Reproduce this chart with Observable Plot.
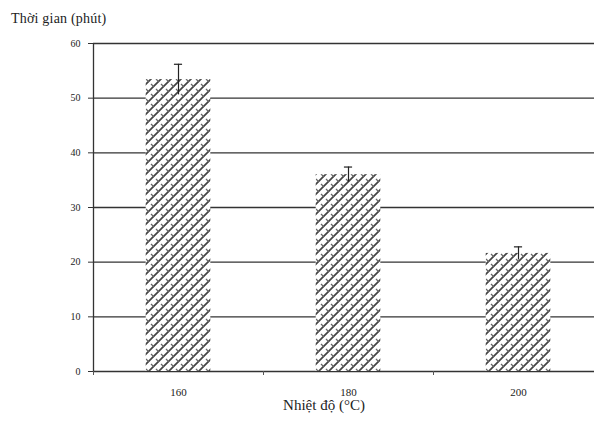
<!DOCTYPE html>
<html><head><meta charset="utf-8">
<script src="https://cdn.jsdelivr.net/npm/d3@7"></script>
<script src="https://cdn.jsdelivr.net/npm/@observablehq/plot@0.6"></script>
<style>
body{margin:0;background:#fff;font-family:"Liberation Serif",serif;}
#wrap{position:relative;width:594px;height:426px;overflow:hidden;}
#title{position:absolute;left:11px;top:11px;font:14px "Liberation Serif",serif;color:#222;letter-spacing:0.2px;}
</style></head>
<body><div id="wrap"><div id="title">Thời gian (phút)</div></div>
<script>
const categories = ["160", "180", "200"];
const values = [53.4, 36.0, 21.6];
const errors = [2.8, 1.4, 1.2];
const yTicks = [0, 10, 20, 30, 40, 50, 60];

const data = categories.map((c, i) => ({c, i, v: values[i], e: errors[i]}));
const capHalf = 0.024;

const plot = Plot.plot({
  width: 594, height: 426,
  marginLeft: 93, marginRight: 0, marginTop: 43, marginBottom: 55,
  style: {fontFamily: "Liberation Serif, serif", fontSize: "10px", color: "#222", background: "#fff"},
  x: {domain: [0, 3], range: [93, 603], axis: null},
  y: {domain: [0, 60], axis: null},
  marks: [
    Plot.ruleY(yTicks, {x1: 0, x2: 3, stroke: "#333", strokeWidth: 1.3}),
    Plot.ruleX([0], {y1: 0, y2: 60, stroke: "#333", strokeWidth: 1.3}),
    Plot.rectY(data, {x1: d => d.i + 0.31, x2: d => d.i + 0.69, y1: 0, y2: "v", fill: "url(#hatch)"}),
    Plot.ruleX(data, {x: d => d.i + 0.5, y1: d => d.v - d.e, y2: d => d.v + d.e, stroke: "#222", strokeWidth: 1.2}),
    Plot.ruleY(data, {x1: d => d.i + 0.5 - capHalf, x2: d => d.i + 0.5 + capHalf, y: d => d.v + d.e, stroke: "#222", strokeWidth: 1.2}),
    Plot.axisY({ticks: yTicks, tickSize: 5, tickPadding: 8, fontSize: 10, stroke: "#333", label: null}),
    Plot.axisX({ticks: [0, 1, 2, 3], tickSize: 4, tickFormat: () => "", stroke: "#555", label: null}),
    Plot.text(data, {x: d => d.i + 0.5, y: 0, text: "c", dy: 21, fontSize: 11, fill: "#222"}),
    Plot.text(["Nhiệt độ (°C)"], {frameAnchor: "bottom", dx: -20, dy: 38, fontSize: 15, fill: "#222"})
  ]
});

const ns = "http://www.w3.org/2000/svg";
const defs = document.createElementNS(ns, "defs");
defs.innerHTML = `<pattern id="hatch" patternUnits="userSpaceOnUse" width="10" height="10">
  <rect width="10" height="10" fill="#fff"/>
  <path d="M-1,11 L11,-1 M-1,1 L1,-1 M9,11 L11,9" stroke="#444" stroke-width="1.7"/>
  <path d="M1,4 L4,7 M6,-1 L9,2 M6,9 L9,12" stroke="#666" stroke-width="1.3" fill="none"/>
</pattern>`;
plot.insertBefore(defs, plot.firstChild);
document.getElementById("wrap").appendChild(plot);
</script></body></html>
